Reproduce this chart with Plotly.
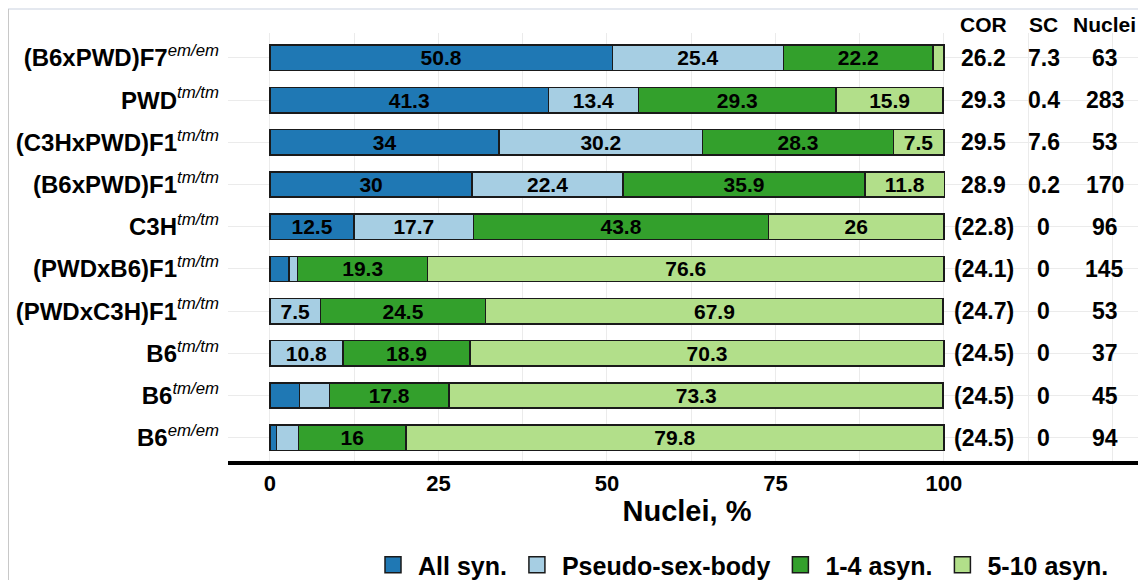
import plotly.graph_objects as go

# ---- data (top row first) ----
strains = ["(B6xPWD)F7", "PWD", "(C3HxPWD)F1", "(B6xPWD)F1", "C3H",
           "(PWDxB6)F1", "(PWDxC3H)F1", "B6", "B6", "B6"]
genotypes = ["em/em", "tm/tm", "tm/tm", "tm/tm", "tm/tm",
             "tm/tm", "tm/tm", "tm/tm", "tm/em", "em/em"]
all_syn = [50.8, 41.3, 34.0, 30.0, 12.5, 2.8, 0.0, 0.0, 4.4, 1.0]
pseudo_sex_body = [25.4, 13.4, 30.2, 22.4, 17.7, 1.3, 7.5, 10.8, 4.4, 3.2]
asyn_1_4 = [22.2, 29.3, 28.3, 35.9, 43.8, 19.3, 24.5, 18.9, 17.8, 16.0]
asyn_5_10 = [1.6, 15.9, 7.5, 11.8, 26.0, 76.6, 67.9, 70.3, 73.3, 79.8]
cor = ["26.2", "29.3", "29.5", "28.9", "(22.8)", "(24.1)", "(24.7)", "(24.5)", "(24.5)", "(24.5)"]
sc = ["7.3", "0.4", "7.6", "0.2", "0", "0", "0", "0", "0", "0"]
nuclei = [63, 283, 53, 170, 96, 145, 53, 37, 45, 94]
series_names = ["All syn.", "Pseudo-sex-body", "1-4 asyn.", "5-10 asyn."]
series_colors = ["#1f78b4", "#a6cee3", "#33a02c", "#b2df8a"]
x_ticks = [0, 25, 50, 75, 100]
table_headers = ["COR", "SC", "Nuclei"]

FONT = "Liberation Sans, Arial, sans-serif"

labels = [f"<b>{s}</b><sup><i>{g}</i></sup>" for s, g in zip(strains, genotypes)]

fig = go.Figure()
for name, vals, col in zip(series_names, [all_syn, pseudo_sex_body, asyn_1_4, asyn_5_10], series_colors):
    fig.add_trace(go.Bar(
        x=vals, y=labels, orientation="h", name=name,
        marker=dict(color=col, line=dict(color="#1a1a1a", width=1.5)),
        width=0.6,
        text=[f"{v:g}" if v >= 5 else "" for v in vals],
        textposition="inside", insidetextanchor="middle", textangle=0,
        textfont=dict(family=FONT, size=21, color="black", weight="bold"),
        showlegend=False, hoverinfo="x+name",
    ))
    # legend proxy
    fig.add_trace(go.Scatter(
        x=[None], y=[None], mode="markers", name=name,
        marker=dict(symbol="square", size=16, color=col, line=dict(color="#1a1a1a", width=1.5)),
        showlegend=True,
    ))

# page body has an 8px margin: figure drawn from (8, 8); figure extends a bit
# below the visible window so the legend never forces the margins to grow
OFF = 8
W, H = 1146 - OFF, 600
L, R, T = 228 - OFF, 0, 33 - OFF
B = H - (461 - OFF)
pw, ph = W - L - R, H - T - B
def px(xp):
    return (xp - OFF - L) / pw
def py(yp):
    return (H - B - (yp - OFF)) / ph

# table columns
col_x = [105.9, 114.8, 123.9]
for cx, head, vals in zip(col_x, table_headers, [cor, sc, [str(n) for n in nuclei]]):
    fig.add_annotation(x=cx, y=py(24), xref="x", yref="paper", text=f"<b>{head}</b>",
                       showarrow=False, font=dict(family=FONT, size=21, color="black"),
                       xanchor="center", yanchor="middle")
    for lab, v in zip(labels, vals):
        fig.add_annotation(x=cx, y=lab, xref="x", yref="y", text=f"<b>{v}</b>",
                           showarrow=False, font=dict(family=FONT, size=23, color="black"),
                           xanchor="center", yanchor="middle")

# faint frame lines
fig.add_shape(type="line", xref="paper", yref="paper", x0=px(8), x1=px(1146), y0=py(9), y1=py(9),
              line=dict(color="#e4e8ef", width=2))
fig.add_shape(type="line", xref="paper", yref="paper", x0=px(8.5), x1=px(8.5), y0=py(9), y1=py(580),
              line=dict(color="#c8c8c8", width=1))

fig.update_layout(
    width=W, height=H,
    margin=dict(l=L, r=R, t=T, b=B, pad=0),
    paper_bgcolor="white", plot_bgcolor="white",
    barmode="stack",
    uniformtext=dict(minsize=21, mode="show"),
    font=dict(family=FONT, color="black"),
    xaxis=dict(
        range=[-6.23, 130], tickvals=x_ticks, ticktext=[f"<b>{t}</b>" for t in x_ticks],
        tickfont=dict(family=FONT, size=22, color="black"),
        showgrid=True, gridcolor="#ebebeb", gridwidth=1,
        minor=dict(dtick=12.5, tick0=0, showgrid=True, gridcolor="#ebebeb", gridwidth=1),
        showline=True, linecolor="black", linewidth=4, ticks="", zeroline=False,
        title=dict(text="<b>Nuclei, %</b>", font=dict(family=FONT, size=29, color="black"), standoff=6),
        ticklabelstandoff=0, automargin=False,
    ),
    yaxis=dict(
        categoryorder="array", categoryarray=labels, range=[9.55, -0.59],
        tickfont=dict(family=FONT, size=24, color="black"),
        showgrid=True, gridcolor="#ebebeb", gridwidth=1,
        showline=False, ticks="", zeroline=False, ticklabelstandoff=8, automargin=False,
    ),
    legend=dict(orientation="h", x=px(741), xanchor="center", y=py(565), yanchor="middle",
                font=dict(family=FONT, size=25, color="black", weight="bold"),
                bgcolor="rgba(0,0,0,0)", itemwidth=40, traceorder="normal"),
)

fig.write_html("out.html")
